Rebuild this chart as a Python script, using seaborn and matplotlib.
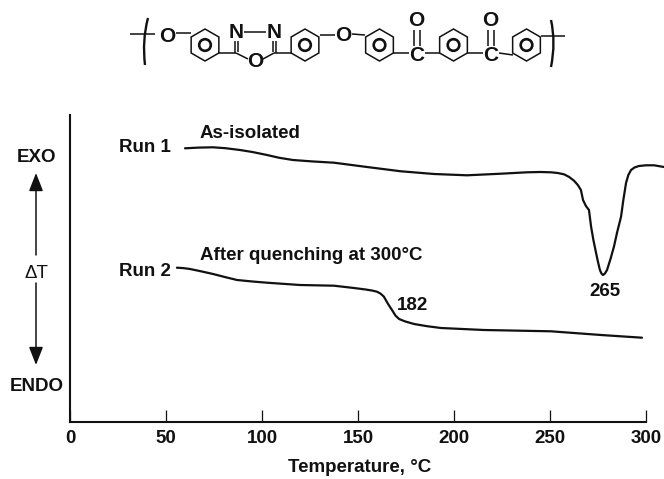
"""DSC traces of a poly(ether ketone oxadiazole), as-isolated and quenched."""

import matplotlib.pyplot as plt
import numpy as np
import pandas as pd
import seaborn as sns
from matplotlib.patches import Circle, FancyArrowPatch, PathPatch, Polygon
from matplotlib.path import Path

run1_temp = [59.9, 67, 74.5, 81, 88.5, 95, 102.6, 109, 116.1, 126, 137.5, 154.7, 172.4, 189.6,
             206.8, 224.5, 238, 245, 250.5, 254, 257.3, 260, 262.5, 264.5, 266.1, 267.2, 268.7, 270.3, 271.4,
             272.6, 274, 275, 276, 276.8, 277.6, 278.6, 279.7, 281.5, 283.3, 285, 287, 288.2, 289.6,
             290.8, 292.2, 294, 296.3, 300, 304.2, 309.4]
run1_signal = [273.7, 274.4, 274.7, 273.8, 272, 270, 267, 264.2, 262, 260.6, 259.3, 255, 250.7, 248,
               246.7, 248.3, 249.7, 250, 249.7, 249, 247.7, 245, 241.3, 237, 232, 222, 216, 212, 195.3,
               182, 169, 160, 152, 148.5, 147, 148.5, 152, 163, 175.3, 190, 205.3, 222, 239,
               247, 252, 254.5, 256, 256.7, 256.7, 255]
run2_temp = [55.7, 59, 62.5, 68, 74.5, 81, 87, 95, 102.6, 119.8, 137.5, 147.9, 154, 157.5, 159.9, 161.8, 163.5,
             165.5, 167.7, 169.5, 171.4, 174.5, 179.2, 186, 193.2, 215.6, 250.5, 276.6, 297.9]
run2_signal = [154.3, 153.9, 153, 150.8, 148, 144.8, 142, 140.5, 139.3, 137, 136.3, 134, 132.5, 131.4, 130.3, 128.3,
               125.3, 118.5, 112, 106.5, 103, 100.6, 98, 95.8, 94, 92, 90.7, 87, 84.3]
x_ticks = [0, 50, 100, 150, 200, 250, 300]

WIDTH, HEIGHT = 664, 479
INK = "#111111"
FONT = "Liberation Sans"
TEXT_SIZE = 13.5

sns.set_theme(style="white")
plt.rcParams["font.family"] = FONT

traces = pd.concat([
    pd.DataFrame({"temperature": run1_temp, "signal": run1_signal, "run": "Run 1"}),
    pd.DataFrame({"temperature": run2_temp, "signal": run2_signal, "run": "Run 2"}),
])

fig = plt.figure(figsize=(WIDTH / 100, HEIGHT / 100), dpi=100)
ax = fig.add_axes([70 / WIDTH, 57 / HEIGHT, 594 / WIDTH, 307 / HEIGHT])
sns.lineplot(data=traces, x="temperature", y="signal", units="run", estimator=None, sort=False,
             color=INK, linewidth=1.6, ax=ax)

ax.set_xlim(0, 594 / 1.92)
ax.set_ylim(0, 307)
ax.set_xticks(x_ticks)
ax.set_yticks([])
ax.set_xlabel("")
ax.set_ylabel("")
ax.tick_params(axis="x", direction="in", length=8.6, width=0.9, color=INK, pad=6,
               labelsize=TEXT_SIZE, labelcolor=INK, bottom=True)
for tick_label in ax.get_xticklabels():
    tick_label.set_fontweight("bold")
for side in ["top", "right"]:
    ax.spines[side].set_visible(False)
for side in ["left", "bottom"]:
    ax.spines[side].set_color(INK)
    ax.spines[side].set_linewidth(1.5)
ax.spines["bottom"].set_bounds(0, 300)

# overlay in image pixels for the annotations and the repeat unit
over = fig.add_axes([0, 0, 1, 1], facecolor="none")
over.set_xlim(0, WIDTH)
over.set_ylim(HEIGHT, 0)
over.axis("off")


def label(x, y, text, ha="center", size=TEXT_SIZE, weight="bold"):
    over.text(x, y, text, ha=ha, va="center", fontsize=size, fontweight=weight, color=INK)


label(359.5, 468, "Temperature, °C")
label(36, 158, "EXO")
label(36.5, 386.5, "ENDO")
label(36, 273, "ΔT", weight="normal")
label(119, 148, "Run 1", ha="left")
label(119, 272, "Run 2", ha="left")
label(200, 133.5, "As-isolated", ha="left")
label(200, 256, "After quenching at 300°C", ha="left")
label(412.5, 305.5, "182")
label(604.5, 292, "265")

for start, end in [((36, 255), (36, 173)), ((36, 283), (36, 365))]:
    over.add_patch(FancyArrowPatch(start, end, arrowstyle="-|>,head_length=4.6,head_width=1.8",
                                   mutation_scale=2.4, lw=1.1, color=INK, shrinkA=0, shrinkB=0))


def bond(x0, y0, x1, y1):
    over.plot([x0, x1], [y0, y1], color=INK, lw=1.1, solid_capstyle="butt")


# repeat unit: benzene rings
for cx in [205, 305, 379.5, 453.5, 526.5]:
    angles = np.radians(np.arange(30, 390, 60))
    over.add_patch(Polygon(np.c_[cx + 16 * np.cos(angles), 45 + 16 * np.sin(angles)],
                           closed=True, fill=False, ec=INK, lw=1.1))
    over.add_patch(Circle((cx, 45), 5.8, fill=False, ec=INK, lw=1.9))

# repeat unit: atoms
for x, y, atom in [(167.5, 36, "O"), (236, 32, "N"), (274, 32, "N"), (255.5, 61, "O"),
                   (343.5, 35.5, "O"), (416.5, 20, "O"), (416.5, 55, "C"),
                   (490.5, 20, "O"), (490.5, 55, "C")]:
    label(x, y, atom, size=15)

# repeat unit: bonds
for seg in [(130, 34, 155, 34), (176, 33, 191, 33), (218, 53, 236, 53), (236, 53, 248, 59),
            (263, 59, 274, 53), (274, 53, 292, 53), (244, 32, 266, 32),
            (235, 41, 235, 53), (238, 41, 238, 52), (273, 41, 273, 52), (276, 41, 276, 53),
            (320, 35, 335, 35), (352, 34, 365, 35), (393, 53, 409, 53), (425, 53, 440, 53),
            (467, 53, 483, 53), (499, 53, 513, 55), (541, 36, 565, 36),
            (413.5, 30, 413.5, 46), (419.5, 30, 419.5, 46),
            (487.5, 30, 487.5, 46), (493.5, 30, 493.5, 46)]:
    bond(*seg)

# repeat unit: brackets
for verts in [[(148, 18), (142, 40), (145, 65)], [(551, 20), (556, 42), (551, 67)]]:
    over.add_patch(PathPatch(Path(verts, [Path.MOVETO, Path.CURVE3, Path.CURVE3]),
                             fill=False, ec=INK, lw=1.7))

fig.savefig("out.png", dpi=100)
